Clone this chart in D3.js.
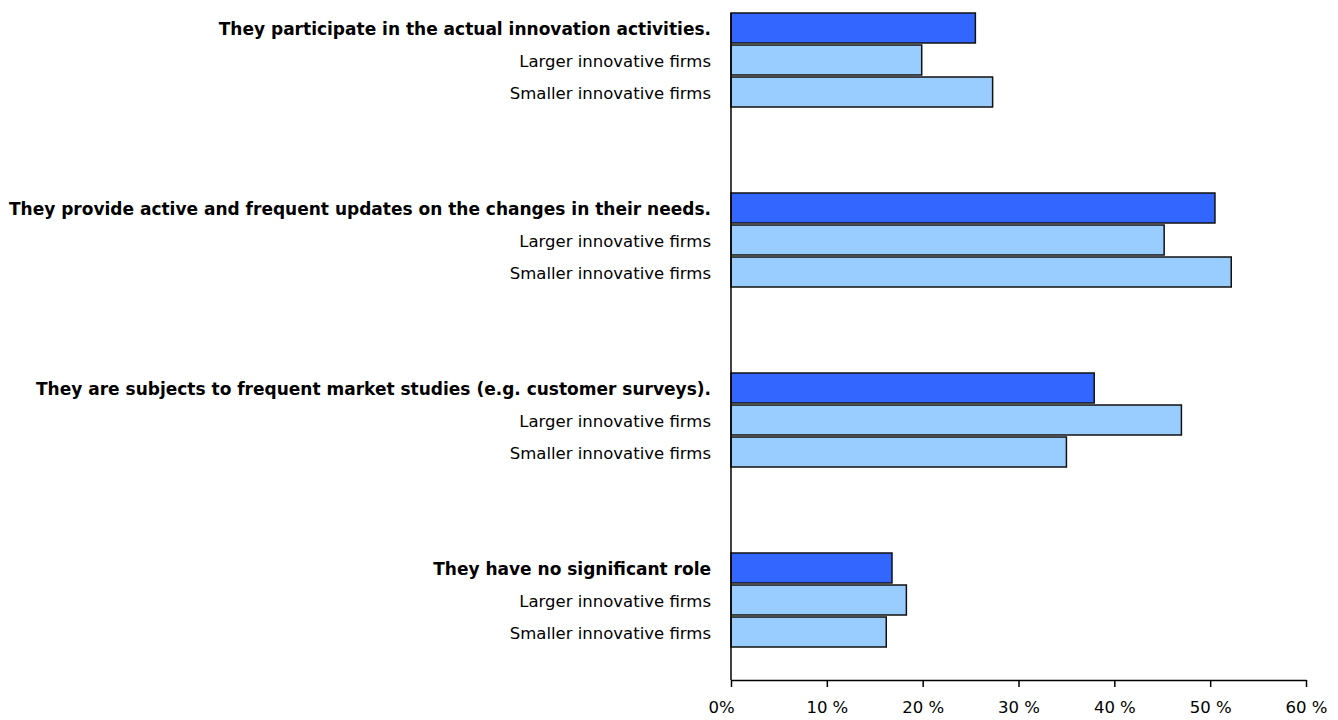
<!DOCTYPE html>
<html><head><meta charset="utf-8">
<script src="https://cdn.jsdelivr.net/npm/d3@7"></script>
<style>body{margin:0;background:#fff}svg{display:block}</style>
</head><body>
<svg id="c" width="1338" height="720"></svg>
<script>
const categories = [
  "They participate in the actual innovation activities.",
  "They provide active and frequent updates on the changes in their needs.",
  "They are subjects to frequent market studies (e.g. customer surveys).",
  "They have no significant role"
];
const rows = ["All", "Larger innovative firms", "Smaller innovative firms"];
const allFirms = [25.5, 50.5, 37.9, 16.8];
const largerFirms = [19.9, 45.2, 47.0, 18.3];
const smallerFirms = [27.3, 52.2, 35.0, 16.2];
const tickValues = [0, 10, 20, 30, 40, 50, 60];
const tickLabels = ["0%", "10 %", "20 %", "30 %", "40 %", "50 %", "60 %"];

const series = [allFirms, largerFirms, smallerFirms];
const colors = ["#3366FF", "#99CCFF", "#99CCFF"];
const FONT = "DejaVu Sans, Verdana, sans-serif";

const svg = d3.select("#c");
const x = d3.scaleLinear().domain([0, 60]).range([731, 1306]);
const yG = d3.scaleBand().domain(categories).range([13, 733]);
const yR = d3.scaleBand().domain(rows).range([0, 94]).paddingInner(0.0625);
const axisY = 680;

const g = svg.append("g");
categories.forEach((cat, ci) => {
  const gg = g.append("g").attr("transform", `translate(0,${yG(cat)})`);
  rows.forEach((r, ri) => {
    gg.append("rect")
      .attr("x", x(0)).attr("y", yR(r))
      .attr("width", x(series[ri][ci]) - x(0))
      .attr("height", yR.bandwidth())
      .attr("fill", colors[ri]).attr("stroke", "#111").attr("stroke-width", 1.5);
    gg.append("text")
      .attr("x", x(0) - 20).attr("y", yR(r) + yR.bandwidth() / 2 + 1)
      .attr("text-anchor", "end").attr("dominant-baseline", "central")
      .attr("font-family", FONT)
      .attr("font-size", ri === 0 ? 17 : 16.5)
      .attr("font-weight", ri === 0 ? "bold" : "normal")
      .attr("fill", "#000")
      .text(ri === 0 ? cat : r);
  });
});

svg.append("line").attr("x1", x(0)).attr("x2", x(0)).attr("y1", 13).attr("y2", axisY)
  .attr("stroke", "#000").attr("stroke-width", 1.5);

const xAxis = d3.axisBottom(x).tickValues(tickValues).tickSize(7).tickSizeOuter(0)
  .tickFormat((d, i) => tickLabels[i]);
const ax = svg.append("g").attr("transform", `translate(0,${axisY})`).call(xAxis);
ax.select(".domain").attr("stroke", "#000").attr("stroke-width", 1.5);
ax.selectAll(".tick line").attr("stroke", "#000").attr("stroke-width", 1.5);
ax.selectAll(".tick text")
  .attr("font-family", FONT)
  .attr("font-size", 16.5).attr("fill", "#000").attr("y", 21)
  .attr("dx", (d, i) => i === 0 ? -10 : 0);
</script>
</body></html>
